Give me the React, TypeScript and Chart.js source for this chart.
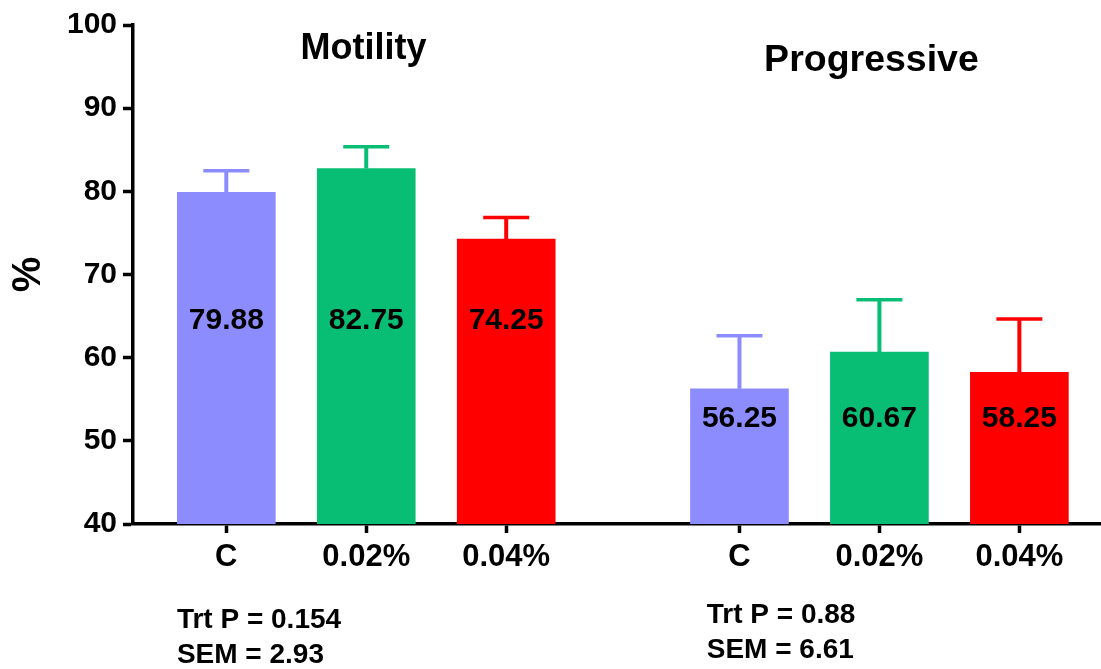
import React, { useEffect, useRef } from 'react';
import { Chart, registerables } from 'chart.js';

Chart.register(...registerables);

// ---- data ----
const measures = ['Motility', 'Progressive'];
const treatments = ['C', '0.02%', '0.04%'];
const meanC = [79.88, 56.25];
const mean002 = [82.75, 60.67];
const mean004 = [74.25, 58.25];
const errC = [2.6, 6.4];
const err002 = [2.6, 6.3];
const err004 = [2.6, 6.4];
const trtP = ['0.154', '0.88'];
const semValues = ['2.93', '6.61'];
const yTickValues = [40, 50, 60, 70, 80, 90, 100];

// ---- layout / style ----
const FONT = '"Liberation Sans", Arial, Helvetica, sans-serif';
const colors = ['#8C8CFF', '#08BE75', '#FF0000'];
const GROUP_GAP = 2 / 3;
const labelLevel = [64.5, 52.7];
const titleLevel = [95.9, 94.5];
const titleX = [0.98, 4.61];
const titleSize = [36, 37.5];
const statX = [-0.353, 3.433];

const means = [meanC, mean002, mean004];
const errs = [errC, err002, err004];
const pos = (g: number, t: number) => g * (treatments.length + GROUP_GAP) + t;
const tickPositions = measures.flatMap((_, g) => treatments.map((_, t) => pos(g, t)));
const tickLabels = measures.flatMap(() => treatments);

const annotate = {
  id: 'annotate',
  afterDatasetsDraw(chart: any) {
    const ctx = chart.ctx;
    const ys = chart.scales.y;
    const xs = chart.scales.x;
    ctx.save();
    chart.data.datasets.forEach((ds: any, di: number) => {
      const meta = chart.getDatasetMeta(di);
      meta.data.forEach((bar: any, i: number) => {
        const v = means[di][i];
        const top = ys.getPixelForValue(v + errs[di][i]);
        ctx.strokeStyle = colors[di];
        ctx.lineCap = 'butt';
        ctx.lineWidth = 4;
        ctx.beginPath();
        ctx.moveTo(bar.x, bar.y);
        ctx.lineTo(bar.x, top);
        ctx.stroke();
        ctx.lineWidth = 3.5;
        ctx.beginPath();
        ctx.moveTo(bar.x - 23, top);
        ctx.lineTo(bar.x + 23, top);
        ctx.stroke();
        ctx.fillStyle = '#000';
        ctx.font = `bold 30px ${FONT}`;
        ctx.textAlign = 'center';
        ctx.textBaseline = 'middle';
        ctx.fillText(v.toFixed(2), bar.x, ys.getPixelForValue(labelLevel[i]));
      });
    });
    // group titles
    measures.forEach((m, g) => {
      ctx.fillStyle = '#000';
      ctx.font = `bold ${titleSize[g]}px ${FONT}`;
      ctx.textAlign = 'center';
      ctx.textBaseline = 'alphabetic';
      ctx.fillText(m, xs.getPixelForValue(titleX[g]), ys.getPixelForValue(titleLevel[g]));
    });
    // stats below
    const b = chart.chartArea.bottom;
    measures.forEach((_, g) => {
      ctx.fillStyle = '#000';
      ctx.font = `bold 28px ${FONT}`;
      ctx.textAlign = 'left';
      ctx.textBaseline = 'alphabetic';
      const x = xs.getPixelForValue(statX[g]);
      const off = g === 0 ? 0 : -5;
      ctx.fillText(`Trt P = ${trtP[g]}`, x, b + 104 + off);
      ctx.fillText(`SEM = ${semValues[g]}`, x, b + 139 + off);
    });
    ctx.restore();
  },
};

export default function App() {
  const ref = useRef<HTMLCanvasElement>(null);
  useEffect(() => {
    const chart = new Chart(ref.current as HTMLCanvasElement, {
      type: 'bar',
      data: {
        datasets: treatments.map((t, ti) => ({
          label: t,
          data: measures.map((_, g) => ({ x: pos(g, ti), y: means[ti][g] })),
          backgroundColor: colors[ti],
          borderWidth: 0,
          barThickness: 98,
          grouped: false,
        })) as any,
      },
      options: {
        animation: false,
        responsive: true,
        maintainAspectRatio: false,
        events: [],
        layout: { padding: { top: 25, left: 0, right: 0, bottom: 0 } },
        plugins: { legend: { display: false }, tooltip: { enabled: false } },
        scales: {
          x: {
            type: 'linear',
            min: -2 / 3,
            max: 6.25,
            offset: false,
            afterFit: (s: any) => { s.height = 145; },
            afterBuildTicks: (s: any) => { s.ticks = tickPositions.map((v) => ({ value: v })); },
            ticks: {
              autoSkip: false,
              maxRotation: 0,
              padding: 6,
              color: '#000',
              font: { family: FONT, size: 31, weight: 'bold' },
              callback: (_v: any, i: number) => tickLabels[i],
            },
            grid: { display: true, offset: false, drawOnChartArea: false, tickLength: 9, tickWidth: 3.5, tickColor: '#000' },
            border: { display: true, color: '#000', width: 3.5 },
          },
          y: {
            min: 40,
            max: 100,
            afterFit: (s: any) => { s.width = 133; },
            afterBuildTicks: (s: any) => { s.ticks = yTickValues.map((v) => ({ value: v })); },
            ticks: {
              padding: 6,
              color: '#000',
              font: { family: FONT, size: 30, weight: 'bold' },
            },
            title: {
              display: true,
              text: '%',
              color: '#000',
              font: { family: FONT, size: 40, weight: 'bold' },
              padding: { top: 5, bottom: 0 },
            },
            grid: { display: true, offset: false, drawOnChartArea: false, tickLength: 10, tickWidth: 3.5, tickColor: '#000' },
            border: { display: true, color: '#000', width: 3.5 },
          },
        },
      } as any,
      plugins: [annotate],
    });
    return () => chart.destroy();
  }, []);
  return (
    <div style={{ position: 'fixed', left: 0, top: 0, width: 1101, height: 669, background: '#fff' }}>
      <canvas ref={ref} />
    </div>
  );
}
